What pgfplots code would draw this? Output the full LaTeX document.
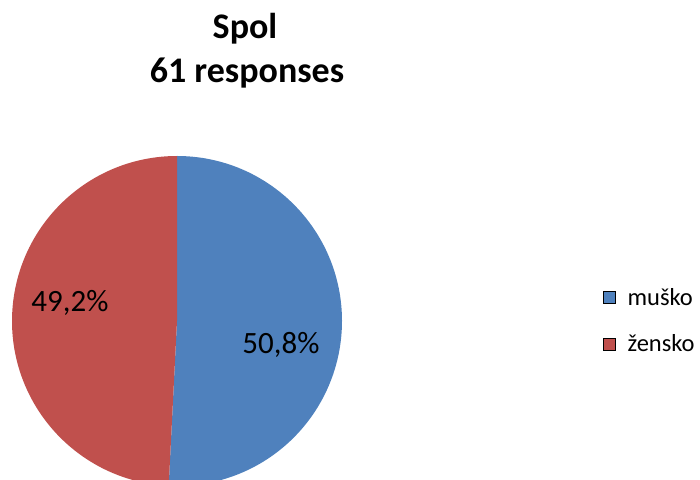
\documentclass[border=0pt]{standalone}
\usepackage{fontspec}
\setmainfont{Carlito}
\usepackage{pgfplots}
\usepackage{pgfplotstable}
\pgfplotsset{compat=1.18}

\definecolor{muskoblue}{HTML}{4F81BD}
\definecolor{zenskored}{HTML}{C0504D}

% Spol -- 61 responses (percent)
\pgfplotstableread{
label value
muško 50.8
žensko 49.2
}\spoltable

\begin{document}
\begin{tikzpicture}
\path[use as bounding box] (0,0) rectangle (700pt,479pt);
\pgfplotstablegetelem{0}{value}\of\spoltable \let\vmusko\pgfplotsretval
\pgfplotstablegetelem{1}{value}\of\spoltable \let\vzensko\pgfplotsretval
\pgfmathsetmacro\amid{90-3.6*\vmusko}
\pgfmathsetmacro\aend{\amid-3.6*\vzensko}
\begin{axis}[
  at={(0,0)}, anchor=south west,
  width=700pt, height=479pt, scale only axis,
  xmin=0, xmax=700, ymin=0, ymax=479,
  axis lines=none,
  legend image code/.code={\fill[#1] (0pt,-6pt) rectangle (12pt,6pt);},
  legend style={draw=none, fill=none, at={(axis cs:603,158.5)}, anchor=west,
    font=\fontsize{24.5}{28}\selectfont, row sep=24pt, column sep=10pt,
    inner sep=0pt},
  legend cell align=left,
]
\fill[muskoblue] (axis cs:177,158) -- (axis cs:177,323)
  arc[start angle=90, end angle=\amid, radius=165pt] -- cycle;
\fill[zenskored] (axis cs:177,158) -- ([shift={(\amid:165pt)}]axis cs:177,158)
  arc[start angle=\amid, end angle=\aend, radius=165pt] -- cycle;
\node[anchor=base, font=\fontsize{31}{31}\selectfont] at (axis cs:281,126) {50,8\%};
\node[anchor=base, font=\fontsize{31}{31}\selectfont] at (axis cs:70,167) {49,2\%};
\node[anchor=base, font=\bfseries\fontsize{36}{36}\selectfont] at (axis cs:245,440) {Spol};
\node[anchor=base, font=\bfseries\fontsize{36}{36}\selectfont] at (axis cs:247,396) {61 responses};
\addlegendimage{fill=muskoblue}
\addlegendentry{muško}
\addlegendimage{fill=zenskored}
\addlegendentry{žensko}
\end{axis}
\end{tikzpicture}
\end{document}
